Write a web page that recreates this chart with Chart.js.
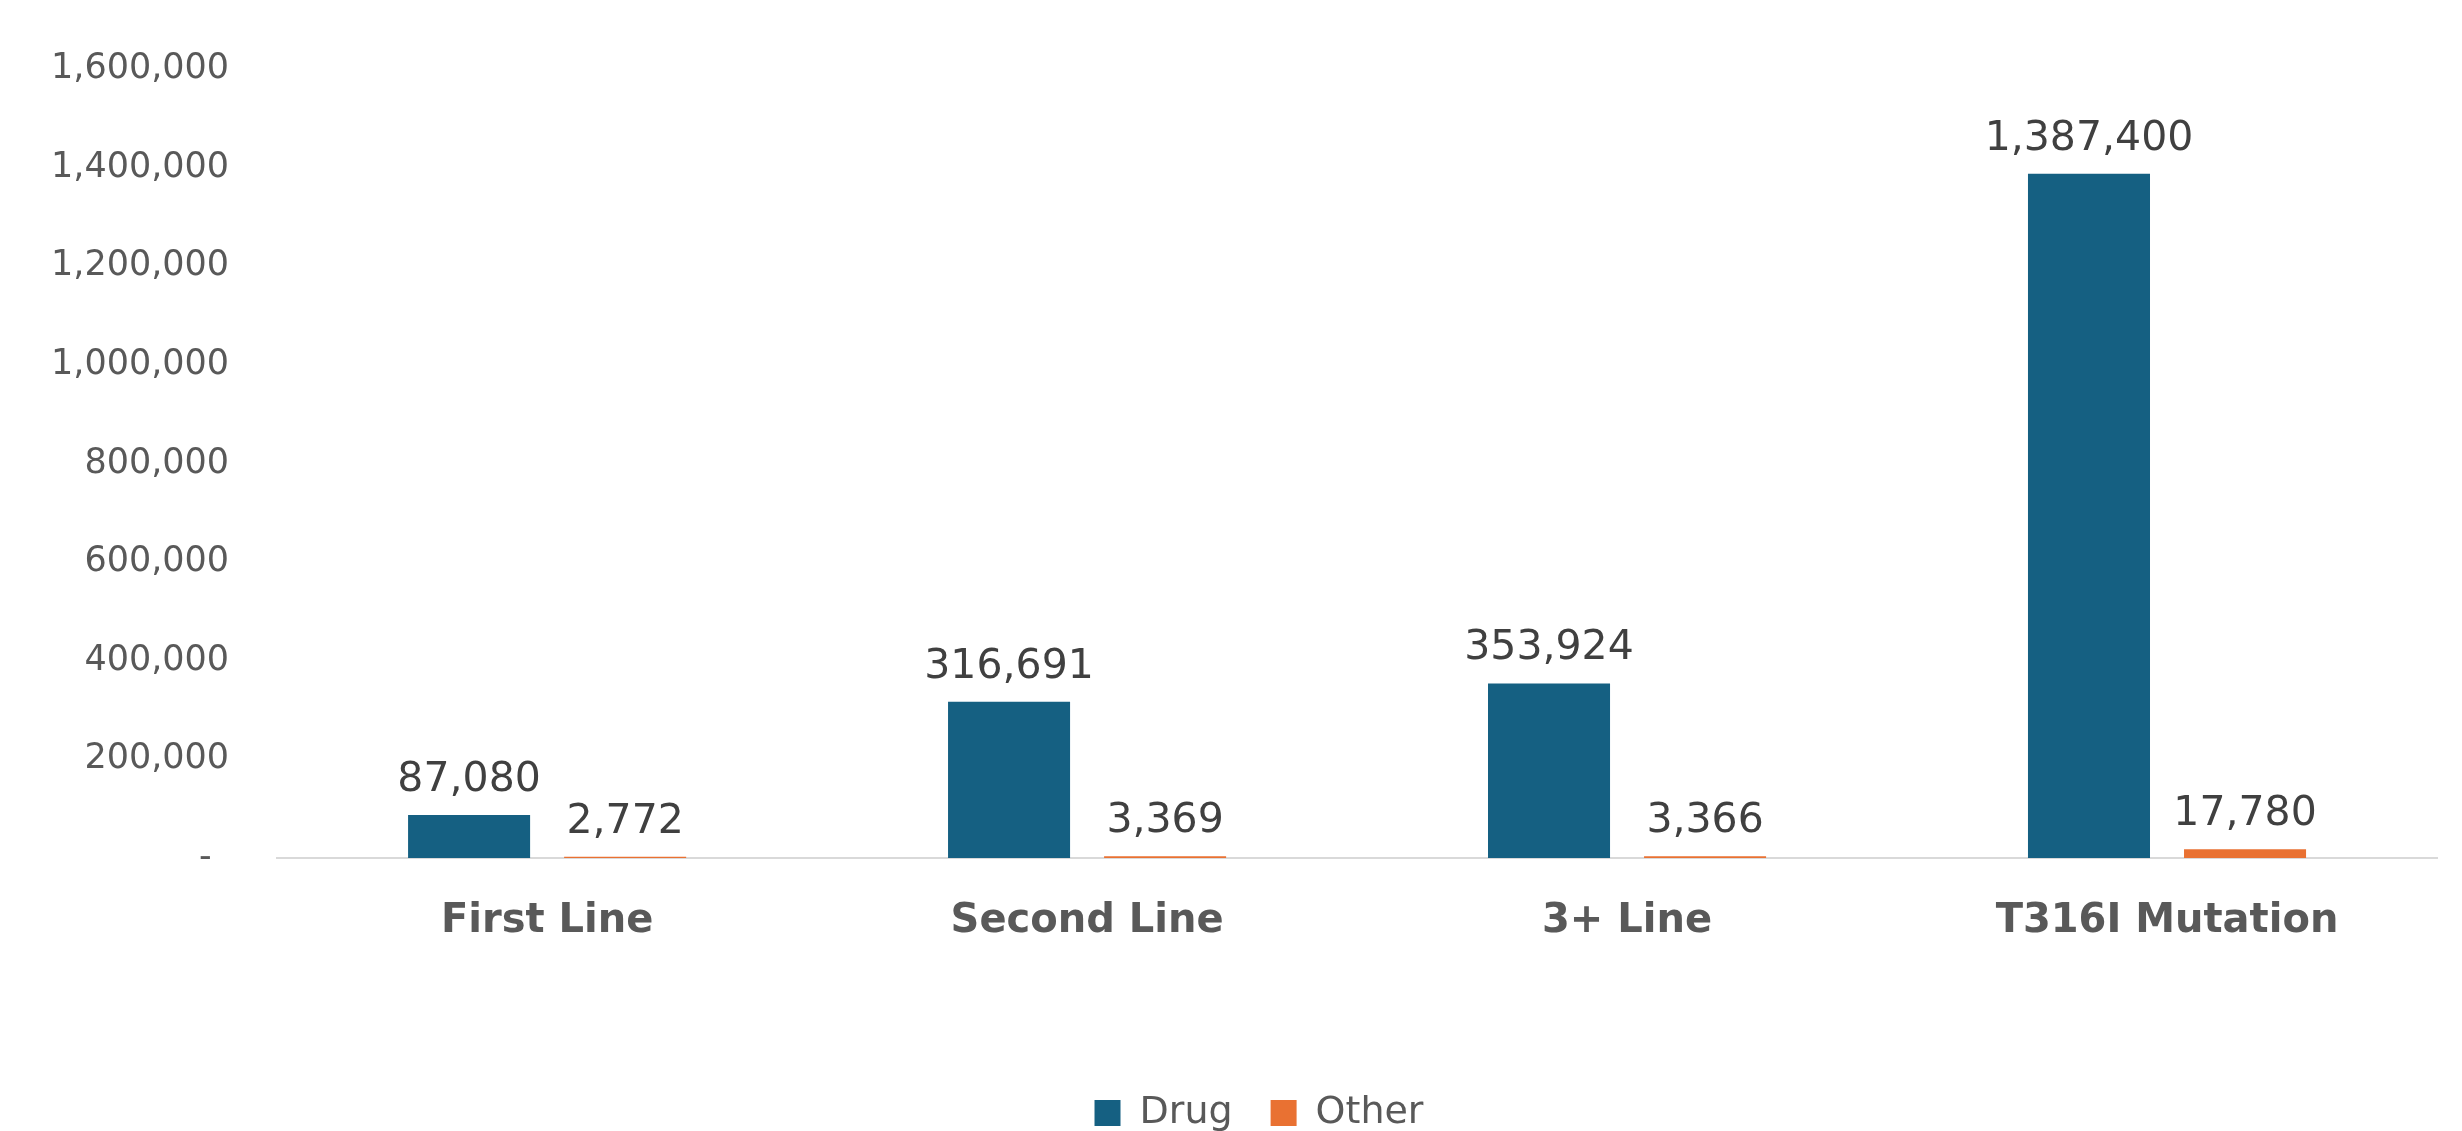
<!DOCTYPE html>
<html>
<head>
<meta charset="utf-8">
<script src="https://cdn.jsdelivr.net/npm/chart.js@4.4.1/dist/chart.umd.min.js"></script>
<style>
  html, body { margin: 0; padding: 0; background: #ffffff; overflow: hidden; }
  #wrap { position: relative; width: 2462px; height: 1131px; }
</style>
</head>
<body>
<div id="wrap"><canvas id="c"></canvas></div>
<script>
const categories = ["First Line", "Second Line", "3+ Line", "T316I Mutation"];
const drugValues = [87080, 316691, 353924, 1387400];
const otherValues = [2772, 3369, 3366, 17780];
const seriesNames = ["Drug", "Other"];
const yMax = 1600000;
const yStep = 200000;

const fmt = v => v.toLocaleString("en-US");

const dataLabelPlugin = {
  id: "dataLabels",
  afterDatasetsDraw(chart) {
    const ctx = chart.ctx;
    ctx.save();
    ctx.font = "41px 'DejaVu Sans'";
    ctx.fillStyle = "#404040";
    ctx.textAlign = "center";
    ctx.textBaseline = "alphabetic";
    chart.data.datasets.forEach((ds, di) => {
      const meta = chart.getDatasetMeta(di);
      meta.data.forEach((bar, i) => {
        ctx.fillText(fmt(ds.data[i]), bar.x, bar.y - 24);
      });
    });
    ctx.restore();
  }
};

const legendShiftPlugin = {
  id: "legendShift",
  afterLayout(chart) {
    if (chart.legend) {
      chart.legend.left += 39;
      chart.legend.right += 39;
    }
  }
};

new Chart(document.getElementById("c"), {
  type: "bar",
  data: {
    labels: categories,
    datasets: [
      { label: seriesNames[0], data: drugValues, backgroundColor: "#156082",
        categoryPercentage: 0.578, barPercentage: 0.782 },
      { label: seriesNames[1], data: otherValues, backgroundColor: "#E97132",
        categoryPercentage: 0.578, barPercentage: 0.782 }
    ]
  },
  options: {
    responsive: true,
    maintainAspectRatio: false,
    animation: false,
    layout: { padding: { top: 55, left: 3, right: 25, bottom: -11 } },
    plugins: {
      legend: {
        position: "bottom",
        labels: {
          boxWidth: 26, boxHeight: 26, padding: 38,
          color: "#595959",
          font: { family: "'DejaVu Sans'", size: 38 }
        }
      },
      tooltip: { enabled: false }
    },
    scales: {
      x: {
        grid: { display: false, drawTicks: false },
        border: { display: true, color: "#d9d9d9", width: 2 },
        ticks: {
          padding: 40,
          color: "#595959",
          font: { family: "'DejaVu Sans'", size: 40, weight: "bold" }
        },
        afterFit: scale => { scale.height += 70; }
      },
      y: {
        min: 0, max: yMax,
        grid: { display: false, drawTicks: false },
        border: { display: false },
        ticks: {
          stepSize: yStep,
          padding: 48,
          color: "#595959",
          font: { family: "'DejaVu Sans'", size: 35 },
          callback: v => v === 0 ? "-\u2002" : fmt(v)
        }
      }
    }
  },
  plugins: [dataLabelPlugin, legendShiftPlugin]
});
</script>
</body>
</html>
